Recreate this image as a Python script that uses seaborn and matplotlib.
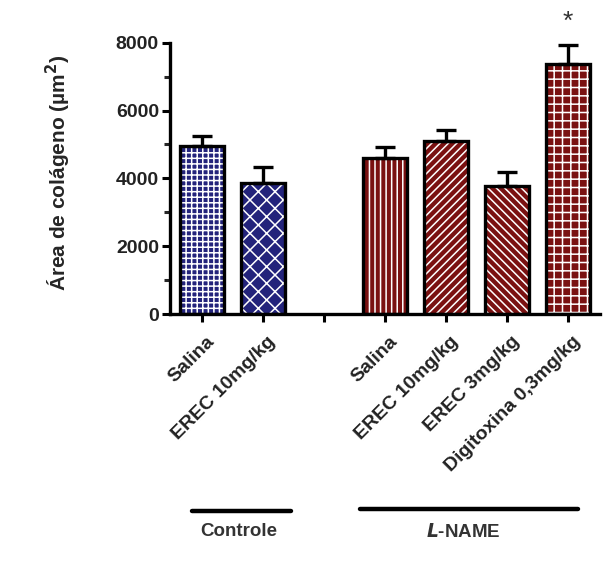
import matplotlib
matplotlib.use("Agg")
import matplotlib.pyplot as plt
import seaborn as sns
import pandas as pd
import numpy as np

sns.set_style("white")
plt.rcParams['font.family'] = ['Liberation Sans', 'DejaVu Sans']
plt.rcParams['hatch.linewidth'] = 1.1

# ---- data ----
categories = ["Salina", "EREC 10mg/kg", "", "Salina ", "EREC 10mg/kg ", "EREC 3mg/kg", "Digitoxina 0,3mg/kg"]
present = ["Salina", "EREC 10mg/kg", "Salina ", "EREC 10mg/kg ", "EREC 3mg/kg", "Digitoxina 0,3mg/kg"]
means = [4950, 3870, 4600, 5100, 3780, 7380]
sem = [290, 480, 320, 330, 410, 560]
tick_labels = ["Salina", "EREC 10mg/kg", "", "Salina", "EREC 10mg/kg", "EREC 3mg/kg", "Digitoxina 0,3mg/kg"]
colors = ["#14148a", "#14148a", "#8b0000", "#8b0000", "#8b0000", "#8b0000"]
hatches = ["+++", "xx", "|||", "////", "\\\\\\\\", "++"]
groups = ["Controle", "L-NAME"]
ylabel = "Área de colágeno (µm$^\\mathbf{2}$)"

df = pd.DataFrame({"cat": present, "val": means})

fig = plt.figure(figsize=(6.14, 5.70), dpi=100)
ax = fig.add_axes([0.277, 0.449, 0.700, 0.476])

sns.barplot(data=df, x="cat", y="val", order=categories, hue="cat", hue_order=present,
            palette=colors, errorbar=None, width=0.72, linewidth=0, edgecolor="white",
            legend=False, ax=ax)
for p, h in zip(ax.patches, hatches):
    p.set_hatch(h)
    p.set_edgecolor("white")
    p.set_linewidth(0)

# black frames
sns.barplot(data=df, x="cat", y="val", order=categories, errorbar=None, width=0.72,
            fill=False, color="black", linewidth=2.4, ax=ax)

xpos = [categories.index(c) for c in present]
ax.errorbar(xpos, means, yerr=[np.zeros(len(sem)), sem], fmt="none", ecolor="black",
            elinewidth=2.4, capsize=7, capthick=2.4, zorder=5)

ax.set_ylim(0, 8000)
ax.set_xlim(-0.52, 6.52)
ax.set_yticks([0, 2000, 4000, 6000, 8000])
ax.set_yticks([1000, 3000, 5000, 7000], minor=True)
ax.set_yticklabels(["0", "2000", "4000", "6000", "8000"], fontsize=14, fontweight="bold", color="#222222")
ax.set_xticks(range(len(categories)))
ax.set_xticklabels(tick_labels, rotation=45, ha="right", rotation_mode="anchor",
                   fontsize=14, fontweight="bold", color="#222222")
ax.tick_params(axis="both", which="major", direction="out", length=6, width=2.2, color="black",
               left=True, bottom=True, pad=2)
ax.tick_params(axis="y", which="minor", direction="out", length=4, width=2.2, left=True)
for lbl in ax.get_xticklabels():
    lbl.set_transform(lbl.get_transform() + matplotlib.transforms.ScaledTranslation(0.04, -0.08, fig.dpi_scale_trans))

for s in ["top", "right"]:
    ax.spines[s].set_visible(False)
for s in ["left", "bottom"]:
    ax.spines[s].set_linewidth(2.4)
    ax.spines[s].set_color("black")

ax.set_xlabel("")
ax.set_ylabel(ylabel, fontsize=15, fontweight="bold")
ax.yaxis.set_label_coords(-0.225, 0.52)

# significance star
ax.text(xpos[-1], means[-1] + sem[-1] + 330, "*", ha="center", va="bottom", fontsize=19, color="#333333")

# group bars
fig.add_artist(plt.Line2D([192/614, 291/614], [1-511/570, 1-511/570], color="black", lw=3.2))
fig.add_artist(plt.Line2D([360/614, 578/614], [1-509/570, 1-509/570], color="black", lw=3.2))
fig.text(239/614, 1-532/570, groups[0], ha="center", va="center", fontsize=13.5, fontweight="bold", color="#333333")
fig.text(463/614, 1-532/570, "$\\mathbfit{L}$-NAME", ha="center", va="center", fontsize=13.5, fontweight="bold", color="#333333")

fig.savefig("out.png", dpi=100)
